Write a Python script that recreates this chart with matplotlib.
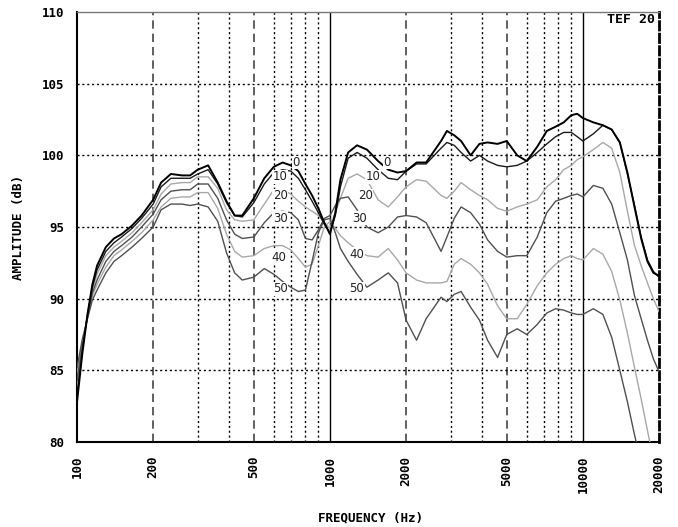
"""Polar off-axis frequency response, TEF 20 style."""

import numpy as np
import matplotlib.pyplot as plt
from matplotlib.ticker import NullLocator, FixedLocator

# frequency points (Hz) shared by all curves
freqs = [100, 105, 110, 115, 120, 130, 140, 150, 165, 180,
         200, 215, 235, 260, 280, 300, 330, 360, 390, 420,
         450, 500, 550, 600, 650, 700, 750, 800, 850, 900,
         950, 1000, 1050, 1100, 1180, 1280, 1400, 1550, 1700, 1850,
         2000, 2200, 2400, 2750, 2900, 3100, 3300, 3600, 3900, 4200,
         4600, 5000, 5500, 6000, 6600, 7200, 7800, 8400, 9000, 9500,
         10000, 11000, 12000, 13000, 14000, 15000, 16000, 17000, 18000, 19000,
         20000]

# amplitude (dB) for each off-axis angle
db_0 = [82.8, 86.2, 88.9, 91.0, 92.3, 93.6, 94.2, 94.5, 95.1, 95.8,
        96.9, 98.1, 98.7, 98.6, 98.6, 99.0, 99.3, 98.1, 96.8, 95.8,
        95.8, 97.0, 98.4, 99.2, 99.5, 99.3, 98.9, 98.0, 97.2, 96.3,
        95.3, 94.5, 96.0, 98.3, 100.2, 100.7, 100.4, 99.6, 99.0, 98.8,
        98.9, 99.5, 99.5, 101.0, 101.7, 101.4, 101.0, 100.0, 100.8, 100.9,
        100.8, 101.0, 100.0, 99.6, 100.6, 101.7, 102.0, 102.3, 102.8, 102.9,
        102.6, 102.3, 102.1, 101.8, 100.9, 98.8, 96.4, 94.2, 92.6, 91.8,
        91.6]
db_10 = [83.3, 86.4, 88.9, 90.8, 92.0, 93.3, 93.9, 94.3, 94.9, 95.6,
         96.6, 97.8, 98.4, 98.4, 98.4, 98.7, 99.0, 98.0, 96.7, 95.8,
         95.7, 96.7, 98.0, 98.8, 99.0, 98.9, 98.4, 97.6, 96.8, 96.0,
         95.2, 94.6, 95.8, 97.8, 99.8, 100.2, 99.8, 99.0, 98.4, 98.3,
         98.9, 99.4, 99.4, 100.5, 100.9, 100.7, 100.2, 99.6, 100.0, 99.6,
         99.3, 99.2, 99.3, 99.6, 100.2, 100.8, 101.3, 101.6, 101.6, 101.3,
         101.0, 101.5, 102.1, 101.8, 100.9, 98.7, 96.5, 94.3, 92.7, 91.9,
         91.5]
db_20 = [83.8, 86.6, 88.8, 90.6, 91.7, 93.0, 93.6, 94.0, 94.6, 95.3,
         96.2, 97.3, 98.0, 98.1, 98.1, 98.5, 98.5, 97.7, 96.2, 95.5,
         95.4, 95.5, 96.6, 97.6, 97.6, 97.3, 96.8, 96.4, 96.1, 95.8,
         95.3, 94.9, 96.0, 97.0, 98.4, 98.7, 98.3, 96.9, 96.4, 97.1,
         97.8, 98.3, 98.2, 97.2, 97.0, 97.5, 98.1, 97.6, 97.2, 96.9,
         96.3, 96.1, 96.4, 96.6, 96.9, 97.8, 98.3, 99.0, 99.3, 99.7,
         99.9, 100.4, 100.9, 100.5, 98.8, 96.1, 93.7, 92.3, 91.1, 90.0,
         89.1]
db_30 = [84.3, 86.8, 88.7, 90.4, 91.3, 92.6, 93.3, 93.7, 94.3, 95.0,
         95.9, 96.9, 97.5, 97.6, 97.6, 98.0, 98.0, 97.0, 95.5, 94.5,
         94.2, 94.3, 95.3, 96.0, 96.1, 96.0, 95.5, 94.2, 94.1, 94.8,
         95.6, 95.8, 96.5, 97.0, 97.1, 96.2, 95.0, 94.6, 95.0, 95.7,
         95.8, 95.7, 95.3, 93.3, 94.3, 95.6, 96.4, 96.0, 95.2, 94.1,
         93.3, 92.9, 93.0, 93.0, 94.3, 96.0, 96.8, 97.0, 97.2, 97.3,
         97.1, 97.9, 97.7, 96.6, 94.6, 92.7, 90.2, 88.6, 87.1, 85.8,
         84.9]
db_40 = [84.8, 87.0, 88.7, 90.2, 91.0, 92.2, 93.0, 93.4, 94.0, 94.6,
         95.5, 96.4, 97.0, 97.1, 97.1, 97.4, 97.4, 96.3, 94.5, 93.3,
         92.9, 93.0, 93.5, 93.7, 93.7, 93.4, 92.8, 92.2, 92.4, 93.7,
         95.0, 95.4, 94.9, 94.4, 93.9, 93.4, 93.0, 92.9, 93.5, 92.7,
         91.8, 91.3, 91.1, 91.1, 91.2, 92.4, 92.8, 92.4, 91.8, 91.0,
         89.5, 88.6, 88.6, 89.6, 90.9, 91.8, 92.4, 92.8, 93.0, 92.8,
         92.7, 93.5, 93.1, 91.9, 89.9, 87.6, 85.2, 83.0, 80.8, 78.8,
         77.0]
db_50 = [85.2, 87.2, 88.6, 89.9, 90.6, 91.8, 92.6, 93.0, 93.6, 94.2,
         95.0, 96.2, 96.6, 96.6, 96.5, 96.6, 96.4, 95.4, 93.2, 91.8,
         91.3, 91.5, 92.1, 91.7, 91.2, 90.8, 90.5, 90.6, 92.6, 94.6,
         95.5, 95.6, 94.6, 93.5, 92.6, 91.7, 90.8, 91.3, 91.8, 91.1,
         88.5, 87.1, 88.6, 90.1, 89.8, 90.3, 90.5, 89.4, 88.5, 87.1,
         85.9, 87.5, 87.9, 87.5, 88.2, 89.0, 89.3, 89.2, 89.0, 88.9,
         88.9, 89.3, 88.9, 87.3, 85.0, 82.8, 80.5, 78.5, 76.5, 74.5,
         72.5]

angles = ['0', '10', '20', '30', '40', '50']
curves = [db_0, db_10, db_20, db_30, db_40, db_50]
colors = ['#000000', '#1a1a1a', '#a8a8a8', '#505050', '#a8a8a8', '#505050']
widths = [1.4, 1.0, 1.0, 1.0, 1.0, 1.0]

# where the angle labels sit (Hz, dB)
labels_low = [(735, 99.5), (635, 98.5), (635, 97.2), (635, 95.6), (628, 92.9), (635, 90.7)]
labels_high = [(1677, 99.5), (1481, 98.5), (1377, 97.2), (1304, 95.6), (1276, 93.1), (1278, 90.7)]

x_ticks = [100, 200, 500, 1000, 2000, 5000, 10000, 20000]
y_ticks = [80, 85, 90, 95, 100, 105, 110]
dashed_freqs = [200, 500, 2000, 5000]
solid_freqs = [1000, 10000]
dotted_freqs = [300, 400, 600, 700, 800, 900, 3000, 4000, 6000, 7000, 8000, 9000]
dotted_db = [85, 90, 95, 100, 105]

tick_font = dict(family='DejaVu Sans Mono', weight='bold', size=9)

fig = plt.figure(figsize=(6.78, 5.27), dpi=100)
ax = fig.add_axes([0.1136, 0.1613, 0.8584, 0.8159])

# grid
for f in dotted_freqs:
    ax.axvline(f, color='black', lw=1.0, ls=(0, (1.5, 2.0)), zorder=1)
for f in dashed_freqs:
    ax.axvline(f, color='#444444', lw=1.2, ls=(0, (5, 3)), zorder=1)
for f in solid_freqs:
    ax.axvline(f, color='black', lw=1.0, zorder=1)
for d in dotted_db:
    ax.axhline(d, color='black', lw=1.0, ls=(0, (1.5, 2.0)), zorder=1)

# curves, lightest drawn first so the black ones stay on top
for i in [4, 2, 5, 3, 1, 0]:
    ax.plot(freqs, curves[i], color=colors[i], lw=widths[i], zorder=3)

for (f, d), name in zip(labels_low + labels_high, angles + angles):
    ax.text(f, d, name, fontsize=8.5, color='#222222', ha='center', va='center',
            zorder=4, bbox=dict(facecolor='white', edgecolor='none', pad=0.3))

ax.set_xscale('log')
ax.set_xlim(100, 20000)
ax.set_ylim(80, 110)
ax.xaxis.set_major_locator(FixedLocator(x_ticks))
ax.xaxis.set_minor_locator(NullLocator())
ax.set_xticklabels([str(t) for t in x_ticks], rotation=90, **tick_font)
ax.set_yticks(y_ticks)
ax.set_yticklabels([str(t) for t in y_ticks], **tick_font)
ax.tick_params(axis='x', length=0, pad=10)
ax.tick_params(axis='y', length=0, pad=9)

ax.spines['left'].set_linewidth(1.5)
ax.spines['bottom'].set_linewidth(1.5)
ax.spines['top'].set_color('#777777')
ax.spines['top'].set_linewidth(1.0)
ax.spines['right'].set_linestyle((0, (3, 1.5)))
ax.spines['right'].set_linewidth(2.0)

ax.text(0.993, 0.997, 'TEF 20', transform=ax.transAxes, ha='right', va='top',
        family='DejaVu Sans Mono', weight='bold', size=9.5, zorder=5)

fig.text(0.546, 0.018, 'FREQUENCY (Hz)', ha='center', va='center',
         family='DejaVu Sans Mono', weight='bold', size=9)
fig.text(0.027, 0.569, 'AMPLITUDE (dB)', ha='center', va='center', rotation=90,
         family='DejaVu Sans Mono', weight='bold', size=9)

fig.savefig('out.png', dpi=100)
